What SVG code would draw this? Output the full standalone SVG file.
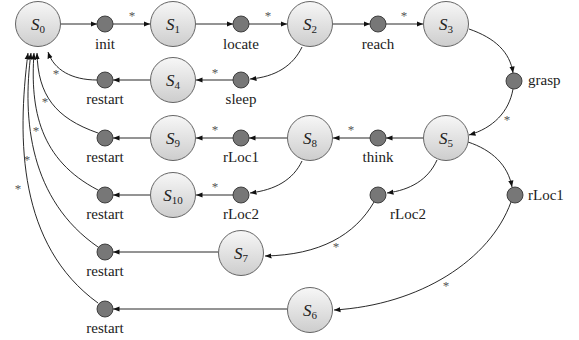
<svg xmlns="http://www.w3.org/2000/svg" width="579" height="340" viewBox="0 0 579 340" font-family="'Liberation Serif', 'Times New Roman', 'DejaVu Serif', serif">
<defs>
<linearGradient id="g" x1="0" y1="0" x2="0" y2="1">
<stop offset="0" stop-color="#f7f7f7"/>
<stop offset="1" stop-color="#cdcdcd"/>
</linearGradient>
<marker id="arr" viewBox="0 0 10 10" refX="10" refY="5" markerWidth="6.5" markerHeight="6.5" orient="auto" markerUnits="userSpaceOnUse">
<path d="M0,1 L10,5 L0,9 z" fill="#111"/>
</marker>
</defs>
<style>
.big{fill:url(#g);stroke:#555;stroke-width:0.9}
.sm{fill:#777;stroke:#333;stroke-width:0.9}
.e{fill:none;stroke:#111;stroke-width:0.9;marker-end:url(#arr)}
.lbl{font-size:15px;fill:#222}
.mid{text-anchor:middle}
.st{font-size:17px;fill:#222;text-anchor:middle}
.sub{font-size:11px}
.ast{font-size:13px;fill:#555;text-anchor:middle}
</style>
<rect width="579" height="340" fill="#fff"/>
<g id="connectors">
<path class="e" d="M61 24 L97 24"/>
<path class="e" d="M113 24 L150 24"/>
<path class="e" d="M196 24 L233 24"/>
<path class="e" d="M249 24 L287 24"/>
<path class="e" d="M333 24 L370 24"/>
<path class="e" d="M386 24 L423 24"/>
<path class="e" d="M469 29 C495 38 510 52 513 73"/>
<path class="e" d="M513 89 C509 112 493 128 469 135"/>
<path class="e" d="M302 47 C293 66 275 77 250 79"/>
<path class="e" d="M233 80 L196 80"/>
<path class="e" d="M150 80 L113 80"/>
<path class="e" d="M423 138 L386 138"/>
<path class="e" d="M370 138 L333 138"/>
<path class="e" d="M287 138 L249 138"/>
<path class="e" d="M233 138 L196 138"/>
<path class="e" d="M150 138 L113 138"/>
<path class="e" d="M302 161 C293 180 275 190 250 193"/>
<path class="e" d="M437 160 C428 180 410 190 387 193"/>
<path class="e" d="M468 142 C492 150 508 165 512 187"/>
<path class="e" d="M233 195 L196 195"/>
<path class="e" d="M150 195 L113 195"/>
<path class="e" d="M374 202 C355 235 320 255 265 256"/>
<path class="e" d="M511 202 C490 260 420 305 334 310"/>
<path class="e" d="M218 252 L113 252"/>
<path class="e" d="M287 309 L113 309"/>
<path class="e" d="M97 80 C72 80 54 70 48 52"/>
<path class="e" d="M98 133 C55 118 38 95 37 53"/>
<path class="e" d="M98 190 C40 160 30 110 34 53"/>
<path class="e" d="M98 247 C30 200 22 120 31 53"/>
<path class="e" d="M98 303 C18 245 17 140 28 53"/>
<text class="ast" x="132" y="20">*</text>
<text class="ast" x="268" y="20">*</text>
<text class="ast" x="404" y="20">*</text>
<text class="ast" x="507" y="124">*</text>
<text class="ast" x="215" y="77">*</text>
<text class="ast" x="351" y="134">*</text>
<text class="ast" x="215" y="134">*</text>
<text class="ast" x="215" y="191">*</text>
<text class="ast" x="336" y="251">*</text>
<text class="ast" x="446" y="290">*</text>
<text class="ast" x="56" y="78">*</text>
<text class="ast" x="45" y="106">*</text>
<text class="ast" x="36" y="135">*</text>
<text class="ast" x="27" y="164">*</text>
<text class="ast" x="18" y="193">*</text>
</g>
<g id="S0"><circle class="big" cx="38" cy="24" r="22.5"/><text class="st" x="38" y="30"><tspan font-style="italic">S</tspan><tspan class="sub" dy="3">0</tspan></text></g>
<g id="S1"><circle class="big" cx="173" cy="24" r="22.5"/><text class="st" x="173" y="30"><tspan font-style="italic">S</tspan><tspan class="sub" dy="3">1</tspan></text></g>
<g id="S2"><circle class="big" cx="310" cy="24" r="22.5"/><text class="st" x="310" y="30"><tspan font-style="italic">S</tspan><tspan class="sub" dy="3">2</tspan></text></g>
<g id="S3"><circle class="big" cx="446" cy="24" r="22.5"/><text class="st" x="446" y="30"><tspan font-style="italic">S</tspan><tspan class="sub" dy="3">3</tspan></text></g>
<g id="S4"><circle class="big" cx="173" cy="80" r="22.5"/><text class="st" x="173" y="86"><tspan font-style="italic">S</tspan><tspan class="sub" dy="3">4</tspan></text></g>
<g id="S9"><circle class="big" cx="173" cy="138" r="22.5"/><text class="st" x="173" y="144"><tspan font-style="italic">S</tspan><tspan class="sub" dy="3">9</tspan></text></g>
<g id="S8"><circle class="big" cx="310" cy="138" r="22.5"/><text class="st" x="310" y="144"><tspan font-style="italic">S</tspan><tspan class="sub" dy="3">8</tspan></text></g>
<g id="S5"><circle class="big" cx="446" cy="138" r="22.5"/><text class="st" x="446" y="144"><tspan font-style="italic">S</tspan><tspan class="sub" dy="3">5</tspan></text></g>
<g id="S10"><circle class="big" cx="173" cy="195" r="22.5"/><text class="st" x="173" y="201"><tspan font-style="italic">S</tspan><tspan class="sub" dy="3">10</tspan></text></g>
<g id="S7"><circle class="big" cx="241" cy="253" r="22.5"/><text class="st" x="241" y="259"><tspan font-style="italic">S</tspan><tspan class="sub" dy="3">7</tspan></text></g>
<g id="S6"><circle class="big" cx="310" cy="310" r="22.5"/><text class="st" x="310" y="316"><tspan font-style="italic">S</tspan><tspan class="sub" dy="3">6</tspan></text></g>
<g id="init"><circle class="sm" cx="105" cy="24" r="8"/><text class="lbl mid" x="105" y="49">init</text></g>
<g id="locate"><circle class="sm" cx="241" cy="24" r="8"/><text class="lbl mid" x="241" y="49">locate</text></g>
<g id="reach"><circle class="sm" cx="378" cy="24" r="8"/><text class="lbl mid" x="378" y="49">reach</text></g>
<g id="grasp"><circle class="sm" cx="514" cy="81" r="8"/><text class="lbl" x="528" y="85">grasp</text></g>
<g id="sleep"><circle class="sm" cx="241" cy="80" r="8"/><text class="lbl mid" x="241" y="104">sleep</text></g>
<g id="restart4"><circle class="sm" cx="105" cy="80" r="8"/><text class="lbl mid" x="105" y="104">restart</text></g>
<g id="think"><circle class="sm" cx="378" cy="138" r="8"/><text class="lbl mid" x="378" y="162">think</text></g>
<g id="rLoc1a"><circle class="sm" cx="241" cy="138" r="8"/><text class="lbl mid" x="241" y="162">rLoc1</text></g>
<g id="restart9"><circle class="sm" cx="105" cy="138" r="8"/><text class="lbl mid" x="105" y="162">restart</text></g>
<g id="rLoc2a"><circle class="sm" cx="241" cy="195" r="8"/><text class="lbl mid" x="241" y="219">rLoc2</text></g>
<g id="restart10"><circle class="sm" cx="105" cy="195" r="8"/><text class="lbl mid" x="105" y="219">restart</text></g>
<g id="rLoc2b"><circle class="sm" cx="378" cy="195" r="8"/><text class="lbl mid" x="408" y="219">rLoc2</text></g>
<g id="rLoc1b"><circle class="sm" cx="515" cy="195" r="8"/><text class="lbl" x="528" y="200">rLoc1</text></g>
<g id="restart7"><circle class="sm" cx="105" cy="252" r="8"/><text class="lbl mid" x="105" y="276">restart</text></g>
<g id="restart6"><circle class="sm" cx="105" cy="309" r="8"/><text class="lbl mid" x="105" y="333">restart</text></g>
</svg>
